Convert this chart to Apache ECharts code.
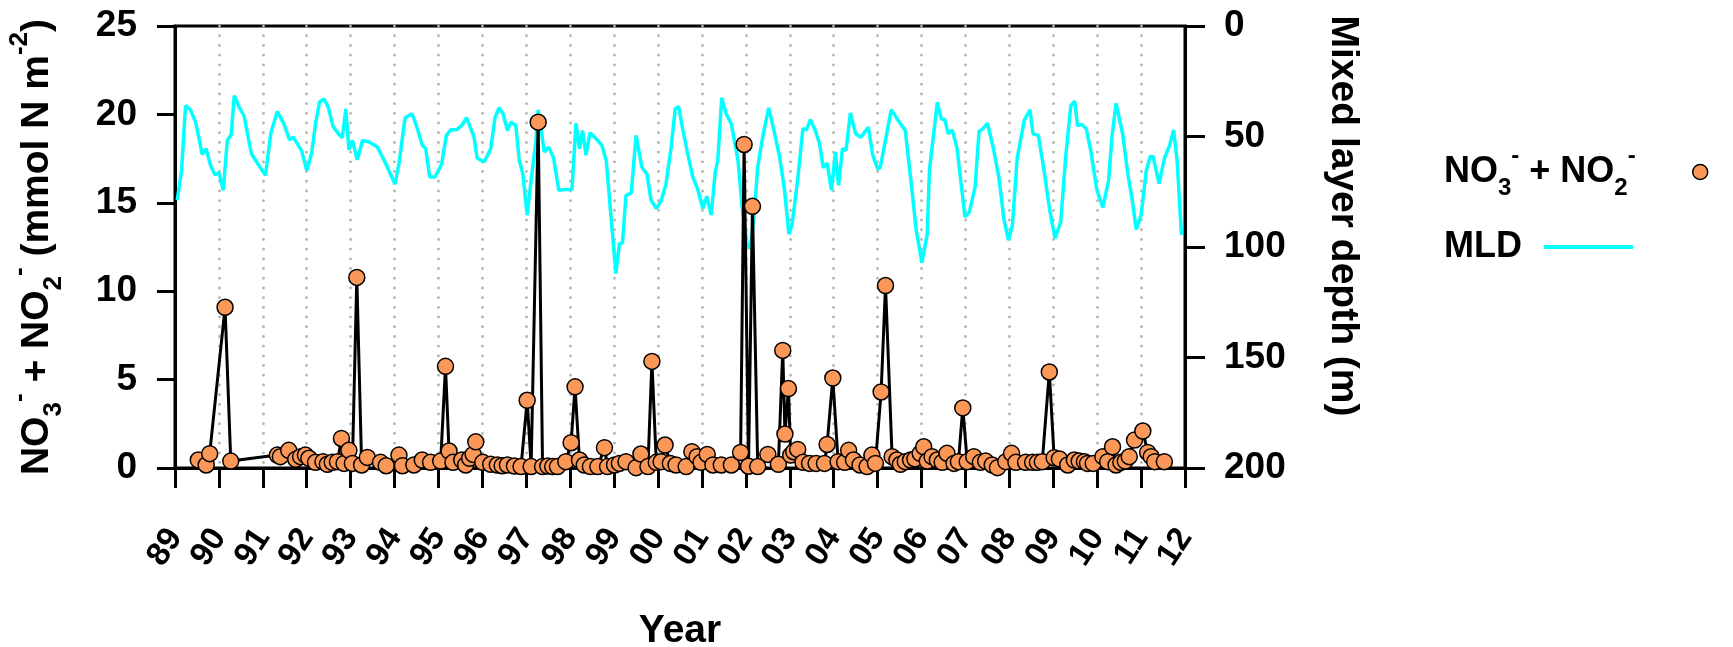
<!DOCTYPE html>
<html>
<head>
<meta charset="utf-8">
<script src="https://cdn.jsdelivr.net/npm/echarts@6/dist/echarts.min.js"></script>
<style>
  html, body { margin: 0; padding: 0; background: #ffffff; }
  #chart { width: 1733px; height: 647px; }
</style>
</head>
<body>
<div id="chart"></div>
<script>
// Nitrate + nitrite inventory, [decimal year, mmol N m^-2]
const nitrate = [
  [1989.53, 0.45], [1989.71, 0.17], [1989.79, 0.81], [1990.14, 9.09], [1990.27, 0.39],
  [1991.33, 0.73], [1991.40, 0.64], [1991.59, 1.00], [1991.75, 0.49], [1991.86, 0.64],
  [1991.97, 0.73], [1992.05, 0.55], [1992.20, 0.32], [1992.37, 0.36], [1992.47, 0.21],
  [1992.58, 0.32], [1992.70, 0.36], [1992.79, 1.67], [1992.85, 0.26], [1992.96, 1.00],
  [1993.04, 0.26], [1993.14, 10.78], [1993.25, 0.17], [1993.38, 0.60], [1993.68, 0.32],
  [1993.81, 0.13], [1994.10, 0.73], [1994.18, 0.13], [1994.44, 0.17], [1994.63, 0.45],
  [1994.82, 0.32], [1995.05, 0.39], [1995.16, 5.75], [1995.24, 0.96], [1995.33, 0.32],
  [1995.53, 0.45], [1995.62, 0.17], [1995.71, 0.55], [1995.79, 0.77], [1995.85, 1.48],
  [1996.01, 0.32], [1996.19, 0.21], [1996.34, 0.17], [1996.45, 0.13], [1996.57, 0.17],
  [1996.73, 0.11], [1996.88, 0.08], [1997.02, 3.83], [1997.11, 0.08], [1997.27, 19.56],
  [1997.37, 0.08], [1997.49, 0.11], [1997.60, 0.08], [1997.71, 0.08], [1997.90, 0.36],
  [1998.02, 1.43], [1998.11, 4.59], [1998.21, 0.45], [1998.32, 0.17], [1998.46, 0.08],
  [1998.63, 0.08], [1998.78, 1.15], [1998.85, 0.08], [1999.01, 0.17], [1999.12, 0.26],
  [1999.27, 0.36], [1999.50, 0.02], [1999.61, 0.79], [1999.77, 0.08], [1999.86, 6.03],
  [1999.96, 0.32], [2000.07, 0.36], [2000.16, 1.30], [2000.28, 0.26], [2000.41, 0.17],
  [2000.64, 0.08], [2000.77, 0.92], [2000.89, 0.64], [2000.98, 0.32], [2001.12, 0.77],
  [2001.25, 0.17], [2001.44, 0.17], [2001.67, 0.17], [2001.88, 0.88], [2001.96, 18.30],
  [2002.06, 0.10], [2002.15, 14.80], [2002.27, 0.08], [2002.50, 0.77], [2002.74, 0.21],
  [2002.84, 6.65], [2002.89, 1.92], [2002.97, 4.49], [2003.02, 0.73], [2003.09, 0.92],
  [2003.18, 1.05], [2003.30, 0.32], [2003.45, 0.26], [2003.60, 0.26], [2003.79, 0.26],
  [2003.85, 1.33], [2003.98, 5.09], [2004.10, 0.36], [2004.25, 0.32], [2004.34, 1.00],
  [2004.45, 0.45], [2004.60, 0.17], [2004.76, 0.08], [2004.87, 0.73], [2004.95, 0.26],
  [2005.08, 4.30], [2005.18, 10.32], [2005.33, 0.64], [2005.44, 0.45], [2005.52, 0.21],
  [2005.63, 0.36], [2005.75, 0.45], [2005.85, 0.51], [2005.97, 0.83], [2006.05, 1.20],
  [2006.13, 0.39], [2006.24, 0.64], [2006.36, 0.45], [2006.47, 0.32], [2006.58, 0.83],
  [2006.74, 0.26], [2006.84, 0.36], [2006.94, 3.40], [2007.04, 0.36], [2007.19, 0.64],
  [2007.34, 0.32], [2007.46, 0.39], [2007.61, 0.17], [2007.73, 0.02], [2007.92, 0.36],
  [2008.05, 0.83], [2008.15, 0.32], [2008.37, 0.32], [2008.53, 0.32], [2008.64, 0.32],
  [2008.75, 0.36], [2008.91, 5.43], [2009.02, 0.58], [2009.14, 0.51], [2009.33, 0.17],
  [2009.48, 0.45], [2009.59, 0.39], [2009.71, 0.36], [2009.78, 0.26], [2009.91, 0.26],
  [2010.13, 0.64], [2010.24, 0.36], [2010.35, 1.20], [2010.43, 0.17], [2010.54, 0.32],
  [2010.64, 0.39], [2010.73, 0.64], [2010.85, 1.58], [2011.04, 2.09], [2011.15, 0.88],
  [2011.23, 0.64], [2011.31, 0.36], [2011.53, 0.36]
];

// Mixed layer depth, [decimal year, metres]
const mixedLayer = [
  [1989.05, 78.8], [1989.15, 65.3], [1989.24, 36.0], [1989.35, 37.9], [1989.47, 43.5],
  [1989.62, 58.1], [1989.71, 55.5], [1989.81, 63.1], [1989.91, 67.3], [1990.00, 66.5],
  [1990.10, 74.3], [1990.19, 51.8], [1990.28, 49.1], [1990.35, 31.5], [1990.46, 36.7],
  [1990.57, 40.5], [1990.74, 57.8], [1990.91, 63.1], [1991.06, 67.6], [1991.18, 48.8],
  [1991.33, 38.7], [1991.48, 44.3], [1991.61, 51.5], [1991.69, 50.3], [1991.88, 56.3],
  [1992.00, 65.3], [1992.11, 57.8], [1992.20, 44.3], [1992.29, 34.5], [1992.39, 33.0],
  [1992.49, 36.7], [1992.60, 45.5], [1992.72, 48.8], [1992.81, 50.6], [1992.89, 37.5],
  [1992.96, 56.0], [1993.04, 51.8], [1993.15, 60.5], [1993.27, 51.8], [1993.42, 52.5],
  [1993.61, 54.8], [1993.80, 62.3], [1994.01, 71.6], [1994.10, 62.3], [1994.24, 41.5],
  [1994.40, 39.7], [1994.52, 46.5], [1994.63, 54.0], [1994.71, 55.5], [1994.80, 68.3],
  [1994.92, 68.3], [1995.07, 62.6], [1995.18, 49.5], [1995.28, 47.0], [1995.41, 47.0],
  [1995.53, 45.0], [1995.64, 41.5], [1995.81, 50.3], [1995.88, 59.7], [1996.04, 61.5],
  [1996.19, 55.5], [1996.29, 41.2], [1996.38, 37.0], [1996.47, 39.7], [1996.57, 47.3],
  [1996.65, 43.5], [1996.76, 45.0], [1996.84, 60.8], [1996.92, 66.8], [1997.02, 85.6],
  [1997.11, 69.8], [1997.22, 51.8], [1997.27, 37.9], [1997.35, 48.8], [1997.41, 57.0],
  [1997.51, 54.8], [1997.62, 59.6], [1997.74, 74.3], [1997.88, 74.0], [1998.04, 74.0],
  [1998.13, 44.0], [1998.21, 55.5], [1998.28, 47.3], [1998.36, 58.5], [1998.45, 48.3],
  [1998.59, 51.0], [1998.72, 54.0], [1998.82, 60.8], [1998.91, 81.9], [1999.04, 112.0],
  [1999.12, 98.4], [1999.19, 98.1], [1999.27, 76.6], [1999.39, 75.5], [1999.50, 49.5],
  [1999.63, 63.8], [1999.75, 67.1], [1999.84, 78.8], [1999.96, 82.6], [2000.07, 79.1],
  [2000.18, 71.6], [2000.30, 54.8], [2000.39, 37.5], [2000.47, 36.4], [2000.56, 46.5],
  [2000.66, 56.3], [2000.79, 68.3], [2000.91, 74.3], [2001.02, 82.6], [2001.11, 77.0],
  [2001.21, 85.6], [2001.30, 66.5], [2001.36, 60.8], [2001.45, 32.5], [2001.55, 39.7],
  [2001.67, 44.3], [2001.82, 60.8], [2001.93, 85.0], [2002.03, 99.0], [2002.10, 100.6],
  [2002.18, 87.9], [2002.27, 63.8], [2002.39, 49.5], [2002.52, 37.0], [2002.64, 47.3],
  [2002.77, 59.3], [2002.88, 74.3], [2002.98, 94.2], [2003.05, 90.1], [2003.17, 71.3],
  [2003.30, 46.5], [2003.38, 47.0], [2003.47, 42.4], [2003.58, 47.3], [2003.68, 53.3],
  [2003.76, 64.1], [2003.85, 62.0], [2003.95, 74.3], [2004.04, 57.0], [2004.11, 72.1],
  [2004.20, 55.5], [2004.28, 56.3], [2004.38, 39.3], [2004.50, 48.8], [2004.62, 50.3],
  [2004.79, 45.8], [2004.89, 58.5], [2005.00, 64.6], [2005.06, 64.1], [2005.31, 37.9],
  [2005.46, 42.4], [2005.63, 47.3], [2005.75, 68.3], [2005.88, 92.4], [2006.01, 107.1],
  [2006.13, 94.2], [2006.18, 65.3], [2006.36, 34.5], [2006.45, 42.0], [2006.53, 42.4],
  [2006.61, 48.8], [2006.70, 47.0], [2006.81, 55.5], [2006.99, 86.4], [2007.09, 84.1],
  [2007.22, 72.8], [2007.31, 47.6], [2007.40, 46.5], [2007.50, 44.0], [2007.63, 54.8],
  [2007.76, 68.3], [2007.88, 87.9], [2007.98, 96.9], [2008.07, 90.1], [2008.18, 59.6],
  [2008.34, 42.7], [2008.47, 37.9], [2008.54, 48.8], [2008.66, 49.5], [2008.79, 65.3],
  [2008.92, 83.4], [2009.04, 96.1], [2009.17, 88.6], [2009.29, 57.8], [2009.40, 36.0],
  [2009.49, 34.0], [2009.55, 45.0], [2009.65, 44.6], [2009.75, 46.5], [2009.86, 57.0],
  [2009.99, 74.0], [2010.13, 82.1], [2010.26, 69.8], [2010.34, 49.5], [2010.43, 34.9],
  [2010.58, 48.8], [2010.70, 67.1], [2010.80, 78.8], [2010.89, 92.1], [2011.00, 85.6],
  [2011.12, 65.3], [2011.21, 59.0], [2011.27, 59.0], [2011.41, 71.3], [2011.53, 60.0],
  [2011.65, 54.0], [2011.74, 47.0], [2011.82, 60.8], [2011.92, 94.6]
];

const yearRange = [1989, 2012];
const nitrateRange = [0, 25];
const depthRange = [0, 200];

const FONT = '"Liberation Sans", Arial, Helvetica, sans-serif';
const ORANGE = '#fb9858';
const CYAN = '#00ffff';

// rich-text styles for sub/superscripts, at a given main font size
function chemRich(size) {
  const small = Math.round(size * 0.67);
  const base = { fontWeight: 'bold', fontFamily: FONT, color: '#000' };
  return {
    t:   Object.assign({ fontSize: size,  lineHeight: Math.round(size * 1.55), verticalAlign: 'middle' }, base),
    sub: Object.assign({ fontSize: small, lineHeight: Math.round(small * 1.15), verticalAlign: 'bottom' }, base),
    sup: Object.assign({ fontSize: small, lineHeight: Math.round(small * 1.05), verticalAlign: 'top' }, base)
  };
}
const nitrateLabel = '{t|NO}{sub|3}{sup|-}{t| + NO}{sub|2}{sup|-}';
const nitrateAxisName = nitrateLabel + '{t| (mmol N m}{sup|-2}{t|)}';

const axisFont = { fontFamily: FONT, fontWeight: 'bold', color: '#000' };
const blackLine = { color: '#000', width: 3 };

const chart = echarts.init(document.getElementById('chart'), null, { renderer: 'canvas' });

chart.setOption({
  animation: false,
  backgroundColor: '#ffffff',
  grid: {
    left: 175, top: 26, width: 1010, height: 442,
    show: true, borderColor: '#000', borderWidth: 3,
    containLabel: false, outerBoundsMode: 'none'
  },
  legend: [
    {
      data: [{
        name: 'NO3 + NO2', icon: 'circle',
        itemStyle: { color: ORANGE, borderColor: '#000', borderWidth: 1.5 },
        textStyle: { padding: [0, 52, 0, 0] }
      }],
      formatter: function () { return nitrateLabel; },
      orient: 'vertical', align: 'right', left: 1439, top: 139,
      itemWidth: 15, itemHeight: 15, selectedMode: false,
      textStyle: { rich: chemRich(36) }
    },
    {
      data: [{
        name: 'MLD', icon: 'rect',
        itemStyle: { color: CYAN, borderWidth: 0 },
        textStyle: { padding: [0, 17, 0, 0] }
      }],
      orient: 'vertical', align: 'right', left: 1439, top: 222,
      itemWidth: 89, itemHeight: 4, selectedMode: false,
      textStyle: Object.assign({ fontSize: 36, lineHeight: 40 }, axisFont)
    }
  ],
  xAxis: {
    type: 'value', min: yearRange[0], max: yearRange[1], interval: 1,
    axisLine: { show: true, lineStyle: blackLine },
    axisTick: { show: true, inside: false, length: 20, lineStyle: blackLine },
    axisLabel: Object.assign({
      rotate: 57, margin: 64, fontSize: 33,
      showMinLabel: true, showMaxLabel: true,
      formatter: function (v) { return String(Math.round(v) % 100).padStart(2, '0'); }
    }, axisFont),
    splitLine: {
      show: true,
      lineStyle: { color: '#b4b4ac', width: 2.8, type: [0.1, 9.6], cap: 'round' }
    },
    name: 'Year', nameLocation: 'middle', nameGap: 142,
    nameTextStyle: Object.assign({ fontSize: 39, lineHeight: 42 }, axisFont)
  },
  yAxis: [
    {
      type: 'value', position: 'left', min: nitrateRange[0], max: nitrateRange[1], interval: 5,
      axisLine: { show: true, lineStyle: blackLine },
      axisTick: { show: true, inside: false, length: 18, lineStyle: blackLine },
      axisLabel: Object.assign({ margin: 38, fontSize: 37 }, axisFont),
      splitLine: { show: false },
      name: nitrateAxisName, nameLocation: 'middle', nameGap: 108, nameRotate: 90,
      nameTextStyle: { rich: chemRich(39) }
    },
    {
      type: 'value', position: 'right', inverse: true,
      min: depthRange[0], max: depthRange[1], interval: 50,
      axisLine: { show: true, lineStyle: blackLine },
      axisTick: { show: true, inside: false, length: 20, lineStyle: blackLine },
      axisLabel: Object.assign({ margin: 39, fontSize: 37 }, axisFont),
      splitLine: { show: false },
      name: 'Mixed layer depth (m)', nameLocation: 'middle', nameGap: 137, nameRotate: -90,
      nameTextStyle: Object.assign({ fontSize: 39, lineHeight: 42, padding: [0, 62, 0, 0] }, axisFont)
    }
  ],
  series: [
    {
      name: 'MLD', type: 'line', xAxisIndex: 0, yAxisIndex: 1,
      data: mixedLayer, showSymbol: false, symbol: 'none',
      lineStyle: { color: CYAN, width: 3.5 },
      itemStyle: { color: CYAN },
      emphasis: { disabled: true }, z: 2
    },
    {
      name: 'NO3 + NO2', type: 'line', xAxisIndex: 0, yAxisIndex: 0,
      data: nitrate, symbol: 'circle', symbolSize: 16, showSymbol: true,
      itemStyle: { color: ORANGE, borderColor: '#000', borderWidth: 1.5 },
      lineStyle: { color: '#000', width: 3 },
      emphasis: { disabled: true }, z: 3
    }
  ]
});
</script>
</body>
</html>
